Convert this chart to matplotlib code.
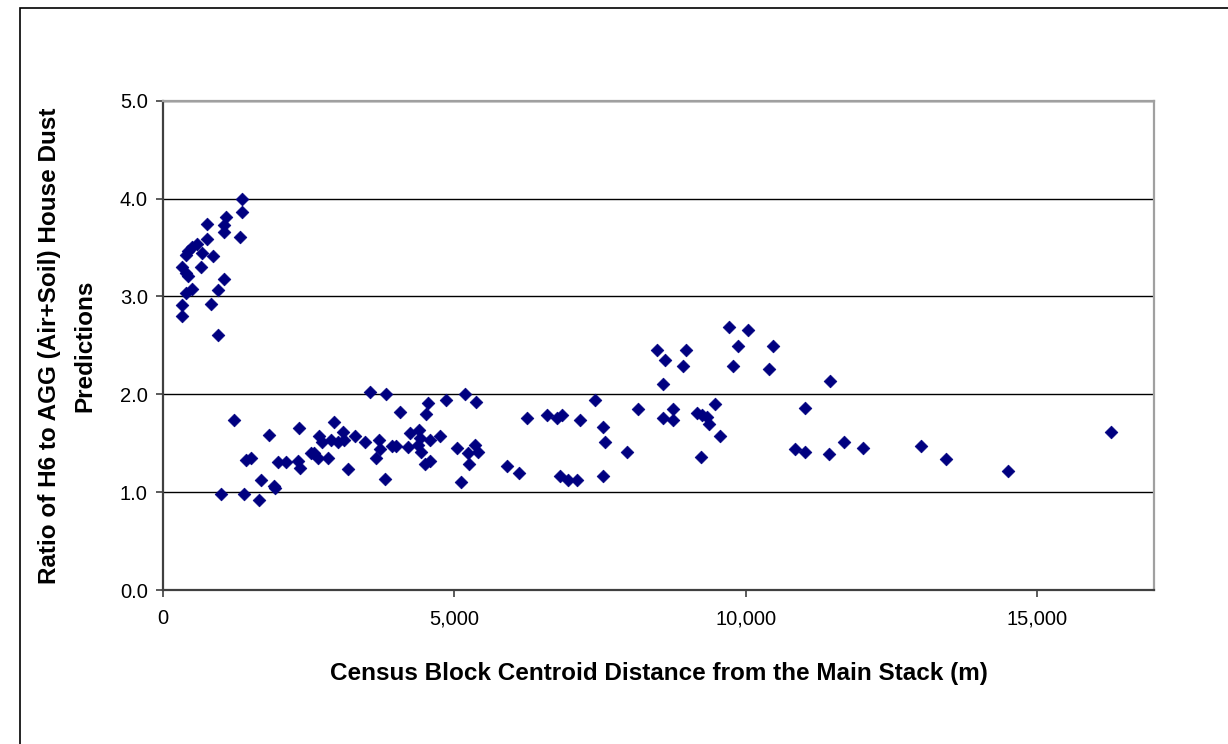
import matplotlib
matplotlib.use("Agg")
import matplotlib.pyplot as plt
from matplotlib.ticker import FuncFormatter
from matplotlib.patches import Rectangle

plt.rcParams['font.family'] = ['Liberation Sans', 'DejaVu Sans']

# Distance from main stack (m) and ratio values
distance = [
    1353, 1353, 1089, 1054, 1054, 751, 1318, 762, 590, 504, 435, 401, 676, 860,
    648, 321, 390, 435, 1054, 493, 401, 951, 820, 321, 321, 951,
    3554, 3817, 1221, 1811, 2338, 2928, 2670, 2728, 2883, 2997, 3095, 3112, 3301,
    3473, 3702, 3714, 3657, 3932, 4001, 1508, 1432, 1966, 2110, 2309, 2350, 2540,
    2596, 2653, 2837, 3169, 3800, 1679, 1909, 1926, 992, 1381, 1651,
    4060, 4545, 4505, 4849, 5175, 5376, 6236, 6580, 6752, 6838, 7153,
    4201, 4230, 4390, 4402, 4373, 4430, 4585, 4746, 4488, 4585, 5043, 5233, 5347,
    5405, 5244, 5118, 5903, 6104, 6809, 6952, 7096,
    9703, 10029, 9865, 10459, 8482, 8975, 8614, 8912, 9771, 10397, 8574, 11450,
    7416, 8150, 8746, 8574, 8746, 9474, 9159, 9245, 9331, 9359, 11021,
    7554, 7582, 7955, 9560, 9233, 10849, 11021, 11422, 7554,
    11680, 12013, 12999, 13428, 14489, 16265,
]
ratio = [
    4.00, 3.86, 3.81, 3.73, 3.66, 3.74, 3.61, 3.59, 3.54, 3.51, 3.46, 3.42, 3.44, 3.41,
    3.30, 3.30, 3.24, 3.21, 3.18, 3.08, 3.03, 3.07, 2.92, 2.91, 2.80, 2.61,
    2.02, 2.00, 1.74, 1.58, 1.66, 1.72, 1.57, 1.51, 1.53, 1.51, 1.61, 1.53, 1.57,
    1.51, 1.53, 1.44, 1.35, 1.47, 1.47, 1.35, 1.33, 1.31, 1.31, 1.32, 1.25, 1.40,
    1.40, 1.35, 1.35, 1.24, 1.13, 1.12, 1.06, 1.04, 0.98, 0.98, 0.92,
    1.82, 1.91, 1.80, 1.94, 2.00, 1.92, 1.76, 1.79, 1.76, 1.79, 1.74,
    1.46, 1.60, 1.63, 1.55, 1.48, 1.41, 1.53, 1.57, 1.29, 1.32, 1.45, 1.40, 1.48,
    1.41, 1.29, 1.10, 1.27, 1.20, 1.16, 1.12, 1.12,
    2.69, 2.66, 2.49, 2.49, 2.45, 2.45, 2.35, 2.29, 2.29, 2.26, 2.10, 2.14,
    1.94, 1.85, 1.85, 1.76, 1.74, 1.90, 1.81, 1.79, 1.77, 1.70, 1.86,
    1.67, 1.51, 1.41, 1.57, 1.36, 1.44, 1.41, 1.39, 1.16,
    1.51, 1.45, 1.47, 1.34, 1.22, 1.61,
]

x_ticks = [0, 5000, 10000, 15000]
y_ticks = [0.0, 1.0, 2.0, 3.0, 4.0, 5.0]

fig = plt.figure(figsize=(12.28, 7.44), dpi=100)
ax = fig.add_axes([163/1228, 154/744, (1154-163)/1228, (590-100.7)/744])

ax.scatter(distance, ratio, marker='D', s=42, color='#000080',
           edgecolors='#000080', linewidths=0.5, zorder=3)

ax.set_xlim(0, 17000)
ax.set_ylim(0, 5)
ax.set_xticks(x_ticks)
ax.set_yticks(y_ticks)
ax.xaxis.set_major_formatter(FuncFormatter(lambda v, p: f"{int(v):,}"))
ax.yaxis.set_major_formatter(FuncFormatter(lambda v, p: f"{v:.1f}"))
ax.grid(axis='y', color='black', linewidth=1.0, zorder=1)
ax.set_axisbelow(True)

for side in ['left', 'bottom']:
    ax.spines[side].set_color('#404040')
    ax.spines[side].set_linewidth(1.6)
for side in ['top', 'right']:
    ax.spines[side].set_color('#a0a0a0')
    ax.spines[side].set_linewidth(1.6)

ax.tick_params(axis='both', direction='out', length=5, width=1.2,
               color='#404040', labelsize=14.5, labelcolor='black')
ax.tick_params(axis='x', pad=9)
ax.tick_params(axis='y', pad=6)

ax.set_xlabel('Census Block Centroid Distance from the Main Stack (m)',
              fontsize=17.5, fontweight='bold', labelpad=24)
ax.set_ylabel('Ratio of H6 to AGG (Air+Soil) House Dust\nPredictions',
              fontsize=17.5, fontweight='bold', labelpad=17, linespacing=1.65)

# outer chart frame
fig.patches.append(Rectangle((20/1228, -0.05), 1.2, (744-8)/744 + 0.05,
                             transform=fig.transFigure, fill=False,
                             edgecolor='black', linewidth=1.2))

fig.savefig('out.png', dpi=100)
